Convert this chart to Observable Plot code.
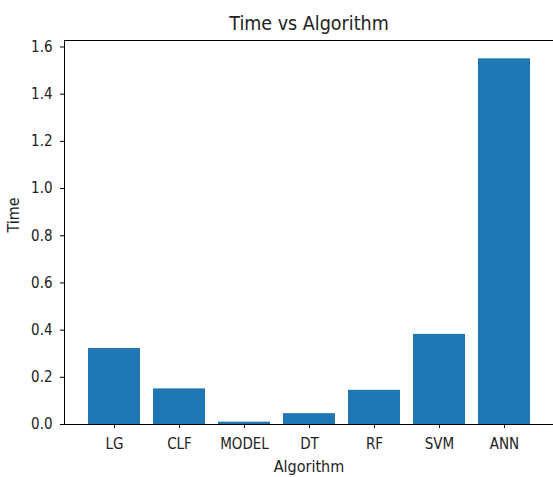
<!DOCTYPE html>
<html>
<head>
<meta charset="utf-8">
<script src="https://cdn.jsdelivr.net/npm/d3@7"></script>
<script src="https://cdn.jsdelivr.net/npm/@observablehq/plot@0.6"></script>
<style>
  html, body { margin: 0; padding: 0; background: white; }
  #chart { width: 553px; height: 477px; }
</style>
</head>
<body>
<div id="chart"></div>
<script>
const algorithms = ["LG", "CLF", "MODEL", "DT", "RF", "SVM", "ANN"];
const times = [0.322, 0.151, 0.010, 0.046, 0.145, 0.382, 1.55];
const yTicks = [0, 0.2, 0.4, 0.6, 0.8, 1.0, 1.2, 1.4, 1.6];
const titleText = "Time vs Algorithm";
const xLabel = "Algorithm";
const yLabel = "Time";

const data = algorithms.map((a, i) => ({alg: a, time: times[i]}));
const font = "'DejaVu Sans Condensed', 'DejaVu Sans', sans-serif";

const chart = Plot.plot({
  width: 553,
  height: 477,
  marginLeft: 64,
  marginRight: 0,
  marginTop: 40,
  marginBottom: 53,
  style: {fontFamily: font, fontSize: "15px", color: "#222", background: "white", overflow: "visible"},
  x: {domain: algorithms, paddingInner: 0.2, paddingOuter: 0.335, label: null},
  y: {domain: [0, d3.max(times) * 1.05], label: null},
  marks: [
    Plot.barY(data, {x: "alg", y: "time", fill: "#1f77b4"}),
    Plot.axisX({tickSize: 4, tickPadding: 10, stroke: "#000", label: null, fontSize: 15}),
    Plot.axisY({ticks: yTicks, tickFormat: d3.format(".1f"), tickSize: 4, tickPadding: 8, stroke: "#000", label: null, fontSize: 15}),
    Plot.frame({anchor: "left", stroke: "#000"}),
    Plot.frame({anchor: "top", stroke: "#000"}),
    Plot.frame({anchor: "bottom", stroke: "#000"}),
    Plot.text([titleText], {frameAnchor: "top", dy: -24, fontSize: 19.5, fill: "#222"}),
    Plot.text([xLabel], {frameAnchor: "bottom", dy: 47, fontSize: 16, fill: "#222"}),
    Plot.text([yLabel], {frameAnchor: "left", dx: -51, rotate: -90, fontSize: 16, fill: "#222"})
  ]
});
document.getElementById("chart").appendChild(chart);
</script>
</body>
</html>
